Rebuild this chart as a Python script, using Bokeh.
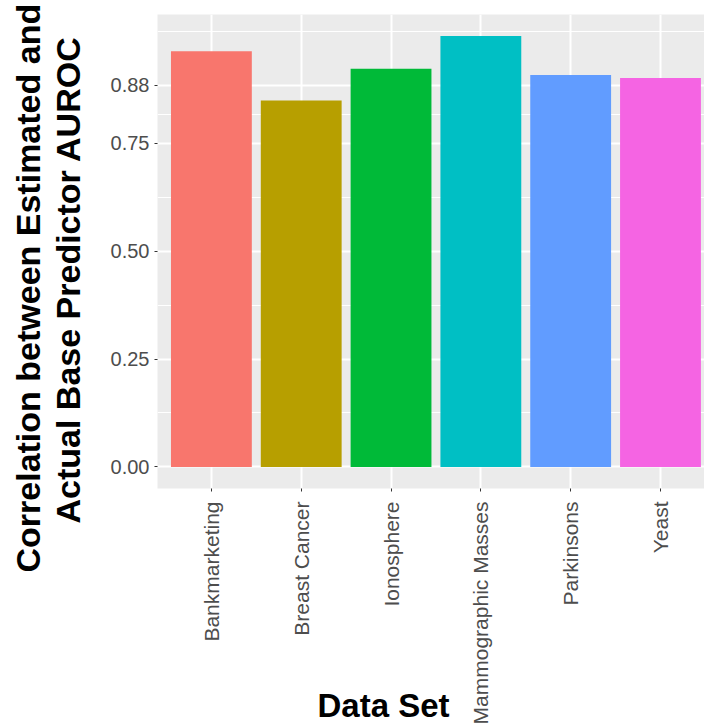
from math import pi
from bokeh.plotting import figure
from bokeh.models import ColumnDataSource, Range1d, FixedTicker, Title, PrintfTickFormatter
from bokeh.embed import file_html
from bokeh.resources import INLINE

datasets = ["Bankmarketing", "Breast Cancer", "Ionosphere", "Mammographic Masses", "Parkinsons", "Yeast"]
correlation = [0.963, 0.849, 0.922, 0.998, 0.908, 0.901]
colors = ["#F8766D", "#B79F00", "#00BA38", "#00BFC4", "#619CFF", "#F564E3"]
y_ticks = [0.0, 0.25, 0.5, 0.75, 0.884]
y_tick_labels = ["0.00", "0.25", "0.50", "0.75", "0.88"]
x_title = "Data Set"
y_title_lines = ["Correlation between Estimated and", "Actual Base Predictor AUROC"]

FONT = "Liberation Sans"
positions = list(range(len(datasets)))
ymax = max(correlation)
y_minor = [(a + b) / 2 for a, b in zip(y_ticks, y_ticks[1:])] + [y_ticks[-1] + (y_ticks[1] - y_ticks[0]) / 2]

src = ColumnDataSource(dict(x=positions, top=correlation, color=colors))

p = figure(width=704, height=727, output_backend="svg", toolbar_location=None,
           x_range=Range1d(-0.6, 5.49), y_range=Range1d(-0.05 * ymax, 1.05 * ymax),
           min_border_left=157, min_border_right=0, min_border_top=14, min_border_bottom=239)
p.background_fill_color = "#EBEBEB"
p.border_fill_color = "white"
p.outline_line_color = None

p.vbar(x="x", top="top", bottom=0, width=0.9, fill_color="color", line_color=None, source=src)

# y axis
yt = FixedTicker(ticks=y_ticks, minor_ticks=y_minor)
p.yaxis.ticker = yt
p.ygrid.ticker = yt
p.yaxis.formatter = PrintfTickFormatter(format="%.2f")
p.yaxis.major_label_overrides = dict(zip(y_ticks, y_tick_labels))
p.yaxis.axis_line_color = None
p.yaxis.major_tick_out = 3
p.yaxis.major_tick_in = 0
p.yaxis.minor_tick_out = 0
p.yaxis.minor_tick_in = 0
p.yaxis.major_tick_line_color = "#333333"
p.yaxis.major_label_standoff = 5
p.yaxis.major_label_text_font = FONT
p.yaxis.major_label_text_font_size = "20px"
p.yaxis.major_label_text_color = "#4D4D4D"

# x axis
xt = FixedTicker(ticks=positions)
p.xaxis.ticker = xt
p.xgrid.ticker = xt
p.xaxis.major_label_overrides = dict(zip(positions, datasets))
p.xaxis.major_label_orientation = pi / 2
p.xaxis.major_label_standoff = 10
p.xaxis.major_label_text_font = FONT
p.xaxis.major_label_text_font_size = "21px"
p.xaxis.major_label_text_color = "#4D4D4D"
p.xaxis.axis_line_color = None
p.xaxis.major_tick_out = 3
p.xaxis.major_tick_in = 0
p.xaxis.minor_tick_out = 0
p.xaxis.minor_tick_in = 0
p.xaxis.major_tick_line_color = "#333333"

# grid
p.xgrid.grid_line_color = "white"
p.xgrid.grid_line_width = 2
p.ygrid.grid_line_color = "white"
p.ygrid.grid_line_width = 2
p.ygrid.minor_grid_line_color = "white"
p.ygrid.minor_grid_line_width = 1

# axis titles as Titles in the side panels
tx = Title(text=x_title, align="left", offset=160, vertical_align="top", standoff=-82,
           text_font=FONT, text_font_size="33px", text_font_style="bold", text_color="black")
p.add_layout(tx, "below")
t2 = Title(text=y_title_lines[1], align="left", offset=-35, vertical_align="bottom", standoff=42,
           text_font=FONT, text_font_size="34px", text_font_style="bold", text_color="black")
p.add_layout(t2, "left")
t1 = Title(text=y_title_lines[0], align="left", offset=-84, vertical_align="bottom", standoff=-42,
           text_font=FONT, text_font_size="34px", text_font_style="bold", text_color="black")
p.add_layout(t1, "left")

open("out.html", "w").write(file_html(p, INLINE))
